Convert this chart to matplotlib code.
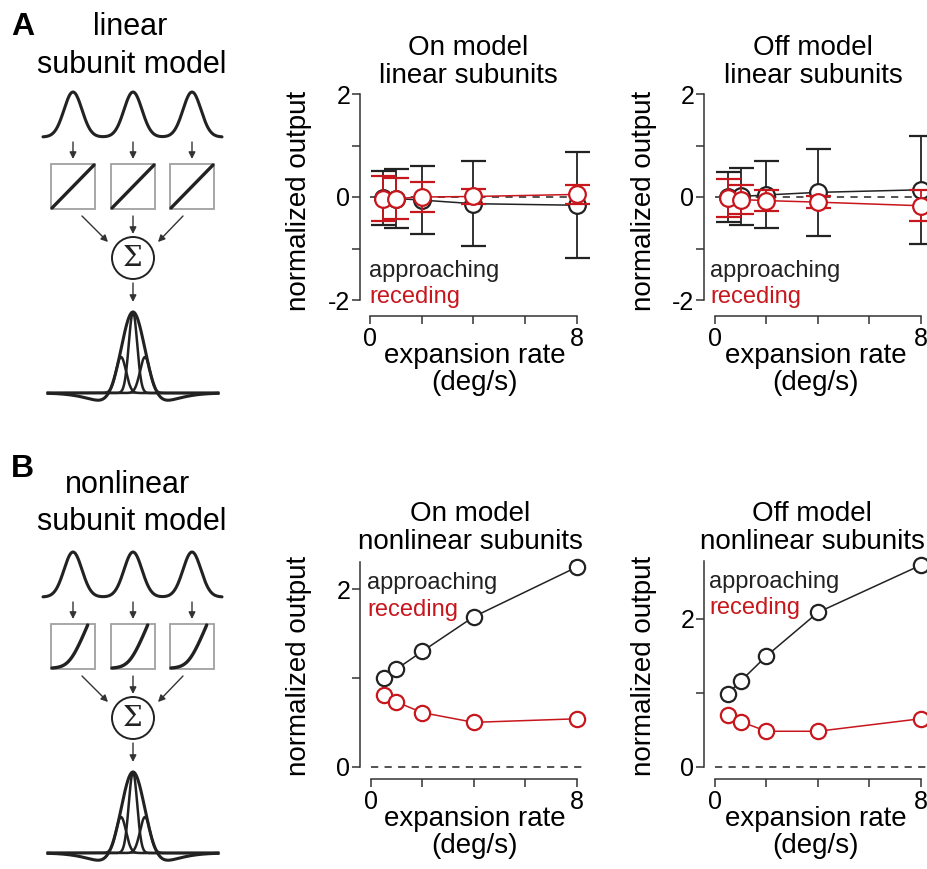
"""Linear vs nonlinear subunit model: approaching/receding responses vs expansion rate."""
import matplotlib
matplotlib.use('Agg')
import matplotlib.pyplot as plt
import numpy as np
from matplotlib.patches import Circle, Rectangle

plt.rcParams['font.family'] = ['Liberation Sans', 'DejaVu Sans']
plt.rcParams['axes.unicode_minus'] = False

# --- data ---
rate = [0.5, 1, 2, 4, 8]

on_lin_app = [-0.02, -0.03, -0.06, -0.13, -0.16]
on_lin_app_err = [0.52, 0.58, 0.66, 0.82, 1.03]
on_lin_rec = [-0.03, -0.03, 0.0, 0.01, 0.05]
on_lin_rec_err = [0.43, 0.39, 0.29, 0.15, 0.19]

off_lin_app = [0.0, 0.01, 0.04, 0.09, 0.14]
off_lin_app_err = [0.49, 0.55, 0.65, 0.85, 1.05]
off_lin_rec = [-0.02, -0.05, -0.07, -0.10, -0.17]
off_lin_rec_err = [0.36, 0.28, 0.20, 0.12, 0.30]

on_nl_app = [1.00, 1.10, 1.30, 1.69, 2.25]
on_nl_app_err = [0.02, 0.02, 0.03, 0.04, 0.06]
on_nl_rec = [0.81, 0.73, 0.61, 0.50, 0.54]
on_nl_rec_err = [0.02, 0.02, 0.02, 0.02, 0.02]

off_nl_app = [0.99, 1.16, 1.50, 2.09, 2.73]
off_nl_app_err = [0.02, 0.02, 0.03, 0.04, 0.05]
off_nl_rec = [0.70, 0.61, 0.48, 0.48, 0.65]
off_nl_rec_err = [0.02, 0.02, 0.02, 0.02, 0.02]

BLACK = '#222222'
RED = '#C8161D'
GRAY = '#333333'

W, H = 928, 869
fig = plt.figure(figsize=(W / 100, H / 100), dpi=100)


def px_axes(left, top, right, bottom):
    return fig.add_axes([left / W, 1 - bottom / H, (right - left) / W, (bottom - top) / H])


def calib_axes(spine_x, right, top, spine_y, x0_px, x8_px, ya, ya_px, yb, yb_px):
    ax = px_axes(spine_x, top, right, spine_y)
    sx = (x8_px - x0_px) / 8
    sy = (ya_px - yb_px) / (yb - ya)
    ax.set_xlim((spine_x - x0_px) / sx, (right - x0_px) / sx)
    ax.set_ylim(ya - (spine_y - ya_px) / sy, ya + (ya_px - top) / sy)
    return ax


def style_axes(ax, ybounds, ymajor, yminor, leg_x, leg_y):
    for s in ['top', 'right']:
        ax.spines[s].set_visible(False)
    for s in ['left', 'bottom']:
        ax.spines[s].set_linewidth(1.1)
        ax.spines[s].set_color(GRAY)
    ax.spines['left'].set_bounds(*ybounds)
    ax.spines['bottom'].set_bounds(0, 8)
    ax.set_yticks(ymajor)
    ax.set_yticks(yminor, minor=True)
    ax.set_xticks([0, 2, 4, 6, 8])
    ax.set_xticklabels(['0', '', '', '', '8'])
    ax.tick_params(axis='both', which='both', direction='out', length=6, width=1.1,
                   color=GRAY, labelsize=18)
    ax.tick_params(axis='y', which='both', pad=1)
    ax.tick_params(axis='x', which='both', pad=2)
    ax.set_ylabel('normalized output', fontsize=20)
    ax.yaxis.set_label_coords(-0.21, 0.5)
    ax.set_xlabel('expansion rate\n(deg/s)', fontsize=20, linespacing=1.05)
    ax.xaxis.set_label_coords(0.5, -0.117)
    ax.hlines(0, 0, 8.2, colors='#444444', linestyles=(0, (4, 3.5)), linewidth=1.3, zorder=1)
    ax.text(leg_x, leg_y[0], 'approaching', color=BLACK, fontsize=17,
            transform=ax.transAxes, va='center', ha='left')
    ax.text(leg_x, leg_y[1], 'receding', color=RED, fontsize=17,
            transform=ax.transAxes, va='center', ha='left')


def draw_series(ax, mean, err, color, z, cap=9, ms=12):
    ax.errorbar(rate, mean, yerr=err, color=color, lw=1.1, elinewidth=1.3, capsize=cap,
                capthick=1.3, marker='o', markersize=ms, markerfacecolor='white',
                markeredgecolor=color, markeredgewidth=1.6, zorder=z)


# --- plots ---
ax1 = calib_axes(360, 590, 85, 316, 370, 577, -2, 300, 2, 94)
style_axes(ax1, (-2, 2), [-2, 0, 2], [-1, 1], 0.04, (0.196, 0.082))
draw_series(ax1, on_lin_app, on_lin_app_err, BLACK, 3)
draw_series(ax1, on_lin_rec, on_lin_rec_err, RED, 4)

ax2 = calib_axes(704, 928, 85, 316, 715, 921, -2, 300, 2, 94)
style_axes(ax2, (-2, 2), [-2, 0, 2], [-1, 1], 0.027, (0.196, 0.082))
draw_series(ax2, off_lin_app, off_lin_app_err, BLACK, 3)
draw_series(ax2, off_lin_rec, off_lin_rec_err, RED, 4)

ax3 = calib_axes(360, 590, 552, 779, 370.7, 576.7, 0, 766.7, 2, 589.3)
style_axes(ax3, (0, 2.31), [0, 2], [1], 0.03, (0.863, 0.744))
draw_series(ax3, on_nl_app, on_nl_app_err, BLACK, 3, cap=4, ms=11)
draw_series(ax3, on_nl_rec, on_nl_rec_err, RED, 4, cap=4, ms=11)

ax4 = calib_axes(704, 928, 552, 779, 715, 921, 0, 766.7, 2, 619)
style_axes(ax4, (0, 2.78), [0, 2], [1], 0.022, (0.869, 0.753))
draw_series(ax4, off_nl_app, off_nl_app_err, BLACK, 3, cap=4, ms=11)
draw_series(ax4, off_nl_rec, off_nl_rec_err, RED, 4, cap=4, ms=11)

titles = [(468, 62, 'On model\nlinear subunits'), (813, 62, 'Off model\nlinear subunits'),
          (470, 528, 'On model\nnonlinear subunits'), (812, 528, 'Off model\nnonlinear subunits')]
for x, y, t in titles:
    fig.text(x / W, 1 - y / H, t, fontsize=20, ha='center', va='center', linespacing=1.1)

# --- schematic (pixel coordinates) ---
sk = px_axes(0, 0, 260, H)
sk.set_xlim(0, 260)
sk.set_ylim(H, 0)
sk.axis('off')


def arrow(x1, y1, x2, y2):
    sk.annotate('', xy=(x2, y2), xytext=(x1, y1),
                arrowprops=dict(arrowstyle='-|>', color=GRAY, lw=1.0, mutation_scale=10,
                                shrinkA=0, shrinkB=0))


def schematic(y0, nonlinear):
    centers = [73, 133, 192]
    xs = np.linspace(43, 222, 400)
    ys = sum(np.exp(-(xs - c) ** 2 / (2 * 9.0 ** 2)) for c in centers)
    sk.plot(xs, y0 + 137 - 45 * ys, color=BLACK, lw=2.2, solid_capstyle='round')
    for c in centers:
        arrow(c, y0 + 142, c, y0 + 159)
    t = np.linspace(0, 1, 100)
    if nonlinear:
        f = np.log1p(np.exp(7 * (t - 0.5)))
        f = (f - f[0]) / (f[-1] - f[0])
        t = t * 0.85
    else:
        f = t
    for c in centers:
        left, top = c - 22, y0 + 164
        sk.add_patch(Rectangle((left, top), 44, 45, fill=False, edgecolor='#A0A0A0', lw=1.3))
        sk.plot(left + 1 + 42 * t, top + 44 - 43 * f, color=BLACK, lw=2.4,
                solid_capstyle='round')
    arrow(82, y0 + 216, 108, y0 + 242)
    arrow(133, y0 + 216, 133, y0 + 234)
    arrow(183, y0 + 216, 158, y0 + 242)
    sk.add_patch(Circle((133, y0 + 258), 21, fill=False, edgecolor=BLACK, lw=1.4))
    sk.text(133, y0 + 259, '\u03A3', family='DejaVu Serif', fontsize=20, ha='center',
            va='center', color=BLACK)
    arrow(133, y0 + 283, 133, y0 + 302)
    base = y0 + 393
    xs = np.linspace(48, 218, 500)
    d = xs - 133
    dog = 98.0 * np.exp(-d ** 2 / (2 * 12 ** 2)) - 17.0 * np.exp(-d ** 2 / (2 * 30 ** 2))
    sk.plot([48, 218], [base, base], color='#555555', lw=1.5)
    sk.plot(xs, base - dog, color=BLACK, lw=2.2)
    for c, h, s in [(121, 36, 5.0), (133, 81, 4.2), (145, 36, 5.0)]:
        sk.plot(xs, base - h * np.exp(-(xs - c) ** 2 / (2 * s ** 2)), color=BLACK, lw=1.8)


schematic(0, False)
schematic(460, True)

sk.text(11, 35, 'A', fontsize=23, fontweight='bold', ha='left', va='baseline')
sk.text(130, 35, 'linear', fontsize=22, ha='center', va='baseline')
sk.text(132, 73, 'subunit model', fontsize=22, ha='center', va='baseline')
sk.text(11, 477, 'B', fontsize=23, fontweight='bold', ha='left', va='baseline')
sk.text(128, 493, 'nonlinear', fontsize=22, ha='center', va='baseline')
sk.text(132, 530, 'subunit model', fontsize=22, ha='center', va='baseline')

fig.savefig('out.png', dpi=100)
